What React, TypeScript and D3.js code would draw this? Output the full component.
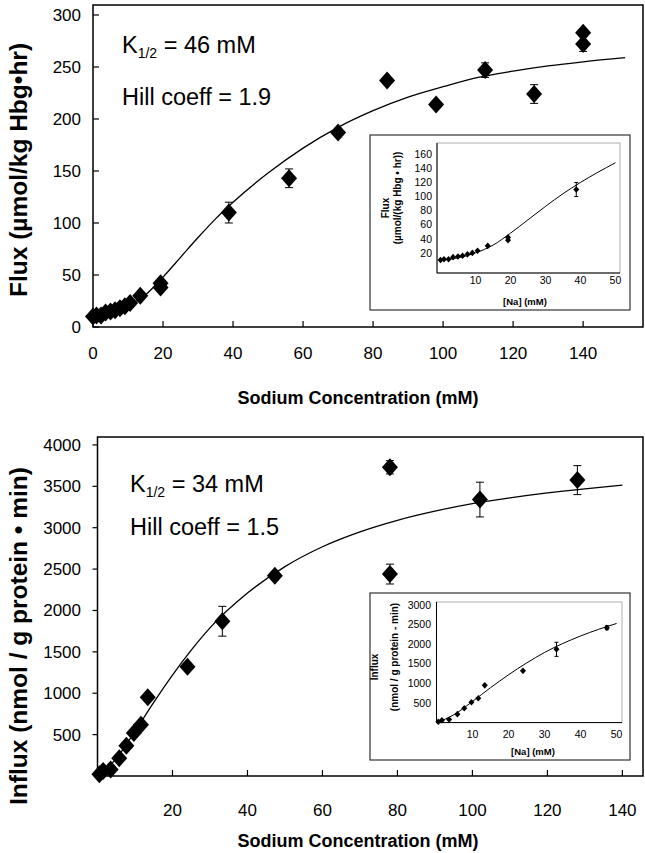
import React from "react";
import * as d3 from "d3";

// ---------- DATA ----------
// Top chart (Flux vs Sodium)
const topNa = [0, 1, 2.3, 3.6, 5, 6.3, 7.7, 9.1, 10.6, 13.5, 19.3, 19.3, 38.8, 56, 70, 84, 98, 112, 126, 140, 140];
const topFlux = [10, 11, 11, 14, 15, 16, 18, 20, 23, 30, 38, 42, 110, 143, 187, 237, 214, 247, 224, 272, 283];
const topErr = [0, 0, 0, 0, 0, 0, 0, 0, 0, 0, 0, 0, 10, 9, 4, 0, 0, 7, 9, 7, 0];
const topFitNa = [0, 5, 10, 15, 20, 25, 30, 35, 40, 50, 60, 70, 80, 90, 100, 110, 120, 130, 140, 152];
const topFitFlux = [10, 13, 20, 31, 48, 67, 86, 104, 120, 148, 172, 192, 208, 221, 231, 240, 246, 251, 255, 259];
const topYTicks = [0, 50, 100, 150, 200, 250, 300];
const topXTicks = [0, 20, 40, 60, 80, 100, 120, 140];
const topInsetYTicks = [20, 40, 60, 80, 100, 120, 140, 160];
const insetXTicks = [10, 20, 30, 40, 50];

// Bottom chart (Influx vs Sodium)
const botNa = [0.5, 1.5, 3.5, 5.8, 7.7, 9.7, 11.6, 13.4, 24, 33.3, 47.3, 78, 78, 102, 128];
const botInflux = [20, 60, 80, 215, 365, 520, 620, 950, 1320, 1870, 2420, 2440, 3730, 3340, 3575];
const botErr = [0, 0, 0, 0, 0, 0, 0, 0, 0, 180, 50, 120, 80, 210, 175];
const botFitNa = [0, 5, 10, 15, 20, 25, 30, 40, 50, 60, 70, 80, 90, 100, 110, 120, 130, 140];
const botFitInflux = [0, 210, 540, 890, 1220, 1520, 1790, 2210, 2530, 2770, 2950, 3090, 3200, 3290, 3360, 3420, 3470, 3515];
const botYTicks = [500, 1000, 1500, 2000, 2500, 3000, 3500, 4000];
const botXTicks = [20, 40, 60, 80, 100, 120, 140];
const botInsetYTicks = [500, 1000, 1500, 2000, 2500, 3000];

const FONT = "'Liberation Sans', Arial, Helvetica, sans-serif";

type Pt = { x: number; y: number; e: number };

const diamond = (cx: number, cy: number, rx: number, ry: number) =>
  `M${cx},${cy - ry}L${cx + rx},${cy}L${cx},${cy + ry}L${cx - rx},${cy}Z`;

function Points({ pts, sx, sy, rx, ry, cap }: { pts: Pt[]; sx: any; sy: any; rx: number; ry: number; cap: number }) {
  return (
    <g>
      {pts.map((p, i) => (
        <g key={i}>
          {p.e > 0 && (
            <g stroke="#000" strokeWidth={1}>
              <line x1={sx(p.x)} x2={sx(p.x)} y1={sy(p.y - p.e)} y2={sy(p.y + p.e)} />
              <line x1={sx(p.x) - cap} x2={sx(p.x) + cap} y1={sy(p.y - p.e)} y2={sy(p.y - p.e)} />
              <line x1={sx(p.x) - cap} x2={sx(p.x) + cap} y1={sy(p.y + p.e)} y2={sy(p.y + p.e)} />
            </g>
          )}
          <path d={diamond(sx(p.x), sy(p.y), rx, ry)} fill="#000" />
        </g>
      ))}
    </g>
  );
}

function Curve({ xs, ys, sx, sy, w }: { xs: number[]; ys: number[]; sx: any; sy: any; w: number }) {
  const line = d3
    .line<number>()
    .x((_, i) => sx(xs[i]))
    .y((d) => sy(d))
    .curve(d3.curveMonotoneX);
  return <path d={line(ys) || ""} fill="none" stroke="#000" strokeWidth={w} />;
}

export default function App() {
  // ---------- TOP MAIN ----------
  const tx = d3.scaleLinear().domain([0, 157.1]).range([93, 643]);
  const ty = d3.scaleLinear().domain([0, 309.6]).range([327, 5]);
  const topPts: Pt[] = topNa.map((x, i) => ({ x, y: topFlux[i], e: topErr[i] }));

  // top inset
  const tix = d3.scaleLinear().domain([-1, 51.3]).range([437, 620]);
  const tiy = d3.scaleLinear().domain([-8.5, 176]).range([273, 143]);
  const topInsetPts = topPts.filter((p) => p.x <= 50);
  const tInsetFitNa = topFitNa.filter((x) => x <= 50);
  const tInsetFitFlux = topFitFlux.slice(0, tInsetFitNa.length);

  // ---------- BOTTOM MAIN ----------
  const bx = d3.scaleLinear().domain([0, 145.5]).range([97.5, 643]);
  const by = d3.scaleLinear().domain([0, 4096]).range([776, 437]);
  const botPts: Pt[] = botNa.map((x, i) => ({ x, y: botInflux[i], e: botErr[i] }));

  // bottom inset
  const bix = d3.scaleLinear().domain([0, 51.5]).range([436.5, 622]);
  const biy = d3.scaleLinear().domain([0, 3077]).range([722.6, 602]);
  const botInsetPts = botPts.filter((p) => p.x <= 50);
  const bInsetFitNa = botFitNa.filter((x) => x <= 50);
  const bInsetFitInflux = botFitInflux.slice(0, bInsetFitNa.length);

  const axisW = 1.5;

  return (
    <svg
      width={645}
      height={853}
      viewBox="0 0 645 853"
      style={{ position: "absolute", left: 0, top: 0, background: "#fff" }}
      fontFamily={FONT}
    >
      <rect x={0} y={0} width={645} height={853} fill="#fff" />

      {/* ===== TOP MAIN ===== */}
      <g>
        <rect x={tx(0)} y={ty(309.6)} width={tx(157.1) - tx(0)} height={ty(0) - ty(309.6)} fill="none" stroke="#000" strokeWidth={axisW} />
        {topYTicks.map((t) => (
          <g key={t}>
            <line x1={tx(0)} x2={tx(0) + 6} y1={ty(t)} y2={ty(t)} stroke="#000" strokeWidth={1.2} />
            <text x={81} y={ty(t)} dy="0.35em" textAnchor="end" fontSize={17}>{t}</text>
          </g>
        ))}
        {topXTicks.map((t) => (
          <g key={t}>
            <line x1={tx(t)} x2={tx(t)} y1={ty(0)} y2={ty(0) - 6} stroke="#000" strokeWidth={1.2} />
            <text x={tx(t)} y={359} textAnchor="middle" fontSize={17}>{t}</text>
          </g>
        ))}
        <text x={358} y={404} textAnchor="middle" fontSize={18} fontWeight="bold">Sodium Concentration (mM)</text>
        <text transform={`translate(27,170) rotate(-90)`} textAnchor="middle" fontSize={24.5} fontWeight="bold">
          Flux (µmol/kg Hbg•hr)
        </text>
        <text x={122} y={53} fontSize={23.5}>
          K<tspan fontSize={14} dy={5}>1/2</tspan><tspan dy={-5}> = 46 mM</tspan>
        </text>
        <text x={122} y={105} fontSize={23.5}>Hill coeff = 1.9</text>

        <Curve xs={topFitNa} ys={topFitFlux} sx={tx} sy={ty} w={1.3} />
        <Points pts={topPts} sx={tx} sy={ty} rx={8} ry={9} cap={4} />

        {/* inset */}
        <rect x={370} y={135} width={260} height={175} fill="#fff" stroke="#333" strokeWidth={1.2} />
        <rect x={437} y={143} width={tix(51.3) - 437} height={130} fill="none" stroke="#999" strokeWidth={0.8} />
        <line x1={437} x2={437} y1={143} y2={273} stroke="#000" strokeWidth={1} />
        <line x1={437} x2={tix(51.3)} y1={273} y2={273} stroke="#000" strokeWidth={1} />
        {topInsetYTicks.map((t) => (
          <text key={t} x={432} y={tiy(t)} dy="0.35em" textAnchor="end" fontSize={10.5}>{t}</text>
        ))}
        {insetXTicks.map((t) => (
          <text key={t} x={tix(t)} y={284} textAnchor="middle" fontSize={10.5}>{t}</text>
        ))}
        <text x={525} y={305} textAnchor="middle" fontSize={9.5} fontWeight="bold">[Na] (mM)</text>
        <text transform={`translate(389,208) rotate(-90)`} textAnchor="middle" fontSize={10} fontWeight="bold">Flux</text>
        <text transform={`translate(401,198) rotate(-90)`} textAnchor="middle" fontSize={10} fontWeight="bold">
          (µmol/(kg Hbg • hr))
        </text>
        <Curve xs={tInsetFitNa} ys={tInsetFitFlux} sx={tix} sy={tiy} w={1} />
        <Points pts={topInsetPts} sx={tix} sy={tiy} rx={3} ry={3.3} cap={2} />
      </g>

      {/* ===== BOTTOM MAIN ===== */}
      <g>
        <rect x={bx(0)} y={by(4096)} width={bx(145.5) - bx(0)} height={by(0) - by(4096)} fill="none" stroke="#000" strokeWidth={axisW} />
        {botYTicks.map((t) => (
          <g key={t}>
            <line x1={bx(0) - 5} x2={bx(0)} y1={by(t)} y2={by(t)} stroke="#000" strokeWidth={1.2} />
            <text x={81} y={by(t)} dy="0.35em" textAnchor="end" fontSize={17}>{t}</text>
          </g>
        ))}
        {botXTicks.map((t) => (
          <g key={t}>
            <line x1={bx(t)} x2={bx(t)} y1={by(0)} y2={by(0) - 6} stroke="#000" strokeWidth={1.2} />
            <text x={bx(t)} y={816} textAnchor="middle" fontSize={17}>{t}</text>
          </g>
        ))}
        <text x={358} y={847} textAnchor="middle" fontSize={18} fontWeight="bold">Sodium Concentration (mM)</text>
        <text transform={`translate(27,636) rotate(-90)`} textAnchor="middle" fontSize={24.5} fontWeight="bold">
          Influx (nmol / g protein • min)
        </text>
        <text x={130} y={492} fontSize={23.5}>
          K<tspan fontSize={14} dy={5}>1/2</tspan><tspan dy={-5}> = 34 mM</tspan>
        </text>
        <text x={130} y={535} fontSize={23.5}>Hill coeff = 1.5</text>

        <Curve xs={botFitNa} ys={botFitInflux} sx={bx} sy={by} w={1.3} />
        <Points pts={botPts} sx={bx} sy={by} rx={8} ry={9} cap={4} />

        {/* inset */}
        <rect x={370} y={593} width={260} height={167} fill="#fff" stroke="#333" strokeWidth={1.2} />
        <rect x={436.5} y={602} width={622 - 436.5} height={120.6} fill="none" stroke="#999" strokeWidth={0.8} />
        <line x1={436.5} x2={436.5} y1={602} y2={722.6} stroke="#000" strokeWidth={1} />
        <line x1={436.5} x2={622} y1={722.6} y2={722.6} stroke="#000" strokeWidth={1} />
        {botInsetYTicks.map((t) => (
          <text key={t} x={431} y={biy(t)} dy="0.35em" textAnchor="end" fontSize={10.5}>{t}</text>
        ))}
        {insetXTicks.map((t) => (
          <text key={t} x={bix(t)} y={738} textAnchor="middle" fontSize={10.5}>{t}</text>
        ))}
        <text x={533} y={755} textAnchor="middle" fontSize={9.5} fontWeight="bold">[Na]  (mM)</text>
        <text transform={`translate(378,667) rotate(-90)`} textAnchor="middle" fontSize={10} fontWeight="bold">Influx</text>
        <text transform={`translate(398,657) rotate(-90)`} textAnchor="middle" fontSize={10} fontWeight="bold">
          (nmol / g protein - min)
        </text>
        <Curve xs={bInsetFitNa} ys={bInsetFitInflux} sx={bix} sy={biy} w={1} />
        <Points pts={botInsetPts} sx={bix} sy={biy} rx={3} ry={3.3} cap={2} />
      </g>
    </svg>
  );
}
